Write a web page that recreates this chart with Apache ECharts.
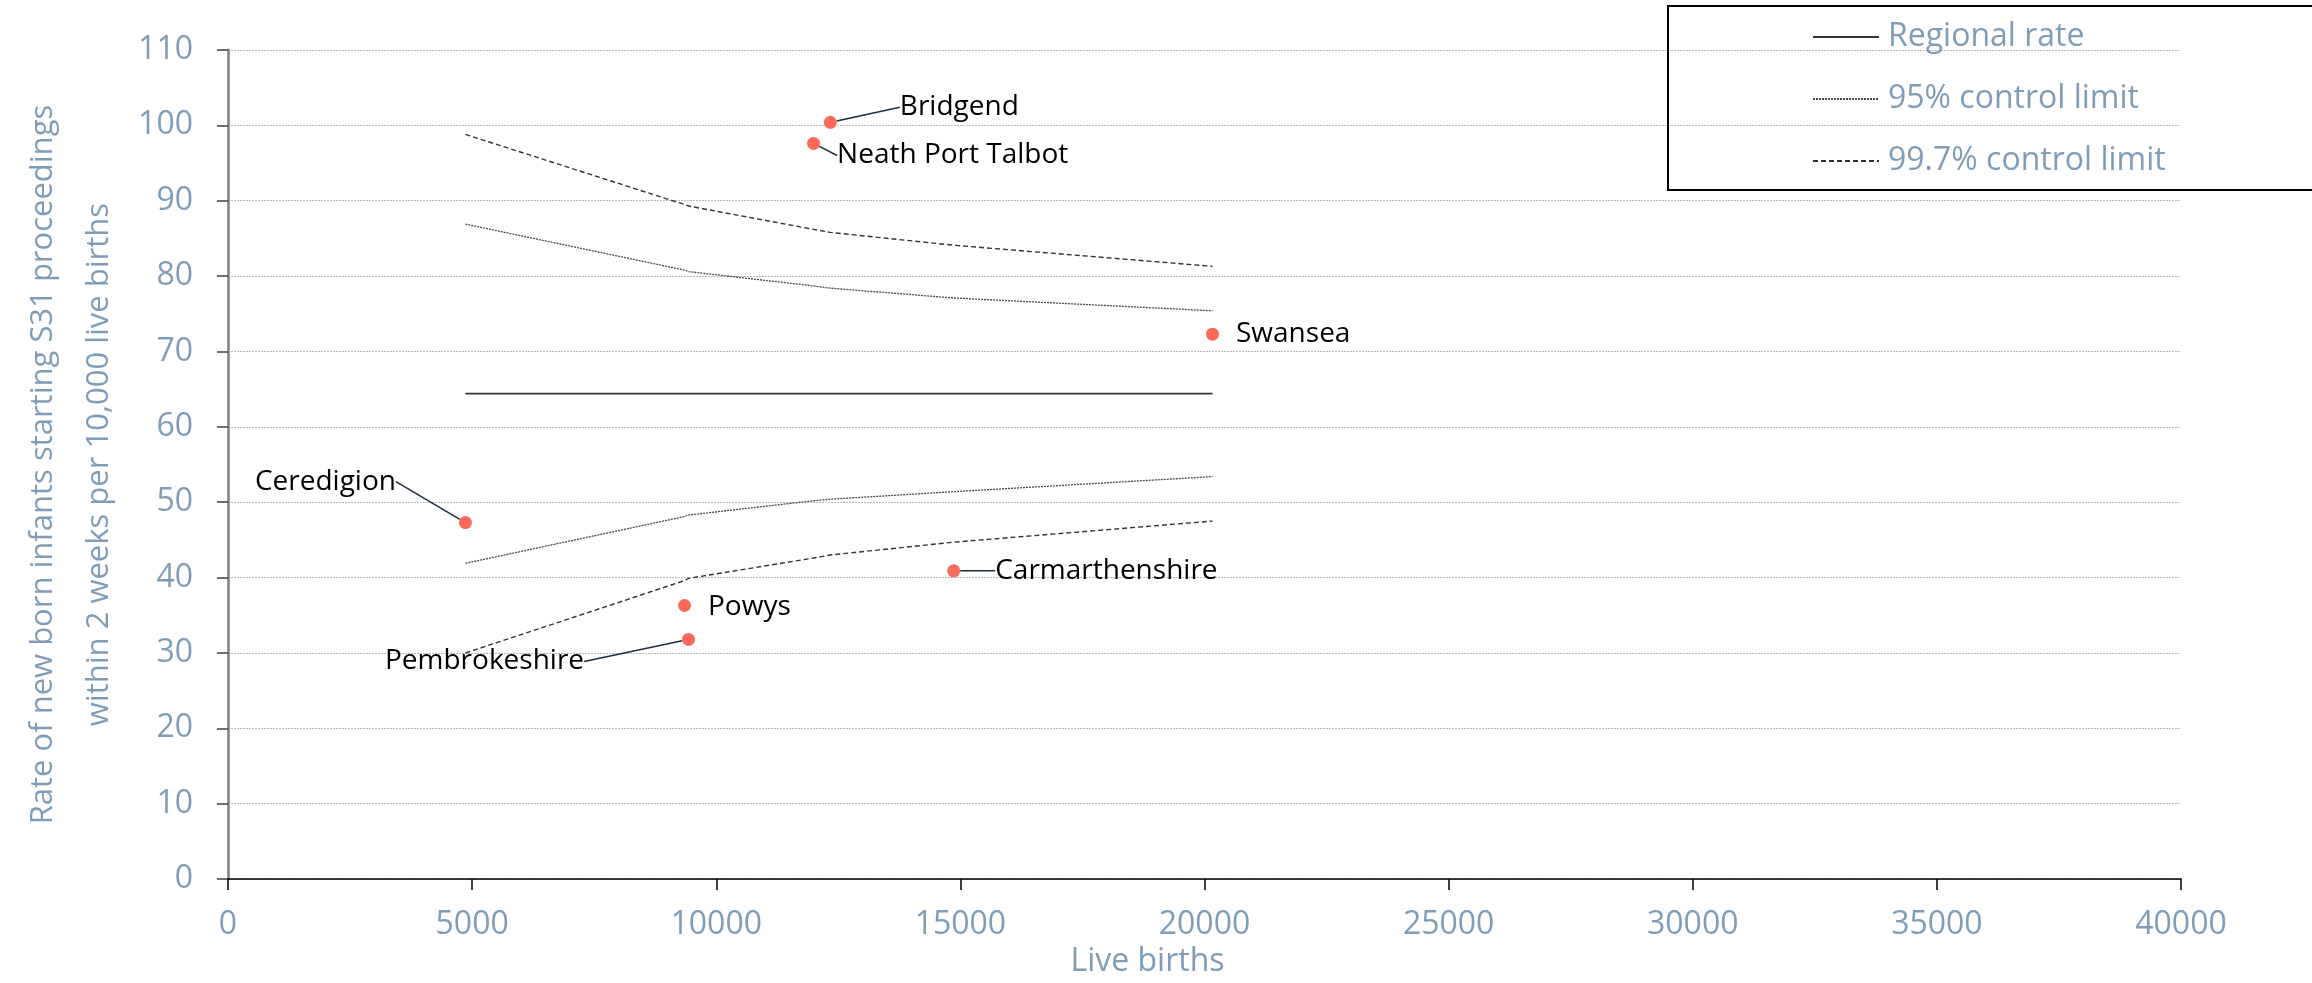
<!DOCTYPE html>
<html>
<head>
<meta charset="utf-8">
<script src="https://cdn.jsdelivr.net/npm/echarts@6/dist/echarts.min.js"></script>
<style>
  html, body { margin: 0; padding: 0; background: #fff; }
  #funnel { width: 2312px; height: 983px; }
</style>
</head>
<body>
<div id="funnel"></div>
<script>
// local authorities, sorted by live births
const laNames = ['Ceredigion', 'Powys', 'Pembrokeshire', 'Neath Port Talbot', 'Bridgend', 'Carmarthenshire', 'Swansea']
const laBirths = [4863, 9350, 9433, 11994, 12336, 14863, 20164]
const laRates = [47.3, 36.3, 31.8, 97.6, 100.4, 40.9, 72.3]

// funnel limits read at each authority's births
const regionalRate = [64.4, 64.4, 64.4, 64.4, 64.4, 64.4, 64.4]
const upper95 = [86.9, 80.8, 80.6, 78.7, 78.4, 77.1, 75.4]
const lower95 = [41.9, 48.1, 48.3, 50.2, 50.4, 51.4, 53.4]
const upper997 = [98.8, 89.5, 89.3, 86.2, 85.8, 84.1, 81.3]
const lower997 = [30.0, 39.6, 39.9, 42.6, 43.0, 44.7, 47.5]

const legendNames = ['Regional rate', '95% control limit', '99.7% control limit']

// label placement (position, dx, dy, leader line)
const labelPlace = {
  'Ceredigion': ['left', -46, -41, true],
  'Powys': ['right', 0, 2, false],
  'Pembrokeshire': ['left', -81, 22, true],
  'Neath Port Talbot': ['right', 0, 12, true],
  'Bridgend': ['right', 46, -15, true],
  'Carmarthenshire': ['right', 18, 0, true],
  'Swansea': ['right', 0, 0, false],
}

const blueGrey = '#7f9db7'
const font = 'Open Sans'

function limitSeries(name, values, color, type, width) {
  return {
    name: name,
    type: 'line',
    symbol: 'none',
    silent: true,
    color: color,
    data: laBirths.map((b, i) => [b, values[i]]),
    lineStyle: { color: color, width: width, type: type },
    z: 2,
  }
}

const chart = echarts.init(document.getElementById('funnel'))
chart.setOption({
  animation: false,
  textStyle: { fontFamily: font },
  grid: { left: 228, right: 131, top: 50, bottom: 97 },
  legend: {
    data: legendNames,
    orient: 'vertical',
    left: 1668,
    top: 6,
    padding: [15, 400, 13, 144],
    borderColor: '#000',
    borderWidth: 2,
    itemWidth: 66,
    itemHeight: 14,
    itemGap: 30,
    itemStyle: { opacity: 0 },
    textStyle: { fontFamily: font, fontSize: 32, color: blueGrey, padding: [0, 0, 0, 4] },
  },
  xAxis: {
    type: 'value',
    min: 0,
    max: 40000,
    interval: 5000,
    name: 'Live births',
    nameLocation: 'middle',
    nameGap: 62,
    nameTextStyle: { fontFamily: font, fontSize: 32, color: blueGrey, padding: [0, 114, 0, 0] },
    axisLine: { show: true, lineStyle: { color: '#000', width: 1.5 } },
    axisTick: { show: true, length: 11, lineStyle: { color: '#000', width: 1.5 } },
    axisLabel: {
      margin: 30,
      fontFamily: font,
      fontSize: 32,
      color: blueGrey,
      formatter: (v) => String(v),
    },
    splitLine: { show: false },
  },
  yAxis: {
    type: 'value',
    min: 0,
    max: 110,
    interval: 10,
    name: 'Rate of new born infants starting S31 proceedings\nwithin 2 weeks per 10,000 live births',
    nameLocation: 'middle',
    nameRotate: 90,
    nameGap: 100,
    nameTextStyle: { fontFamily: font, fontSize: 31, color: blueGrey, lineHeight: 56 },
    axisLine: { show: true, lineStyle: { color: '#7f7f7f', width: 2.5 } },
    axisTick: { show: true, length: 11, lineStyle: { color: '#404040', width: 1.5 } },
    axisLabel: { margin: 35, fontFamily: font, fontSize: 32, color: blueGrey },
    splitLine: { show: true, lineStyle: { color: '#b8b8b8', width: 1, type: [2, 1] } },
  },
  series: [
    limitSeries('Regional rate', regionalRate, '#333333', 'solid', 1.8),
    limitSeries('95% control limit', upper95, '#4a4a4a', [2, 1], 1.3),
    limitSeries('95% control limit', lower95, '#4a4a4a', [2, 1], 1.3),
    limitSeries('99.7% control limit', upper997, '#333333', [5, 3], 1.4),
    limitSeries('99.7% control limit', lower997, '#333333', [5, 3], 1.4),
    {
      name: 'Local authorities',
      type: 'scatter',
      symbolSize: 13,
      z: 5,
      itemStyle: { color: '#fa6a5b', opacity: 1 },
      data: laNames.map((n, i) => ({
        name: n,
        value: [laBirths[i], laRates[i]],
        label: { position: labelPlace[n][0] },
        labelLine: { show: labelPlace[n][3] },
      })),
      label: {
        show: true,
        distance: 17,
        formatter: '{b}',
        fontFamily: font,
        fontSize: 28,
        color: '#000',
      },
      labelLine: { show: true, lineStyle: { color: '#1f2d3d', width: 1.5 } },
      labelLayout: function (params) {
        const p = labelPlace[laNames[params.dataIndex]]
        return { dx: p[1], dy: p[2] }
      },
    },
  ],
})
window.addEventListener('resize', () => {
  chart.resize()
})
</script>
</body>
</html>
